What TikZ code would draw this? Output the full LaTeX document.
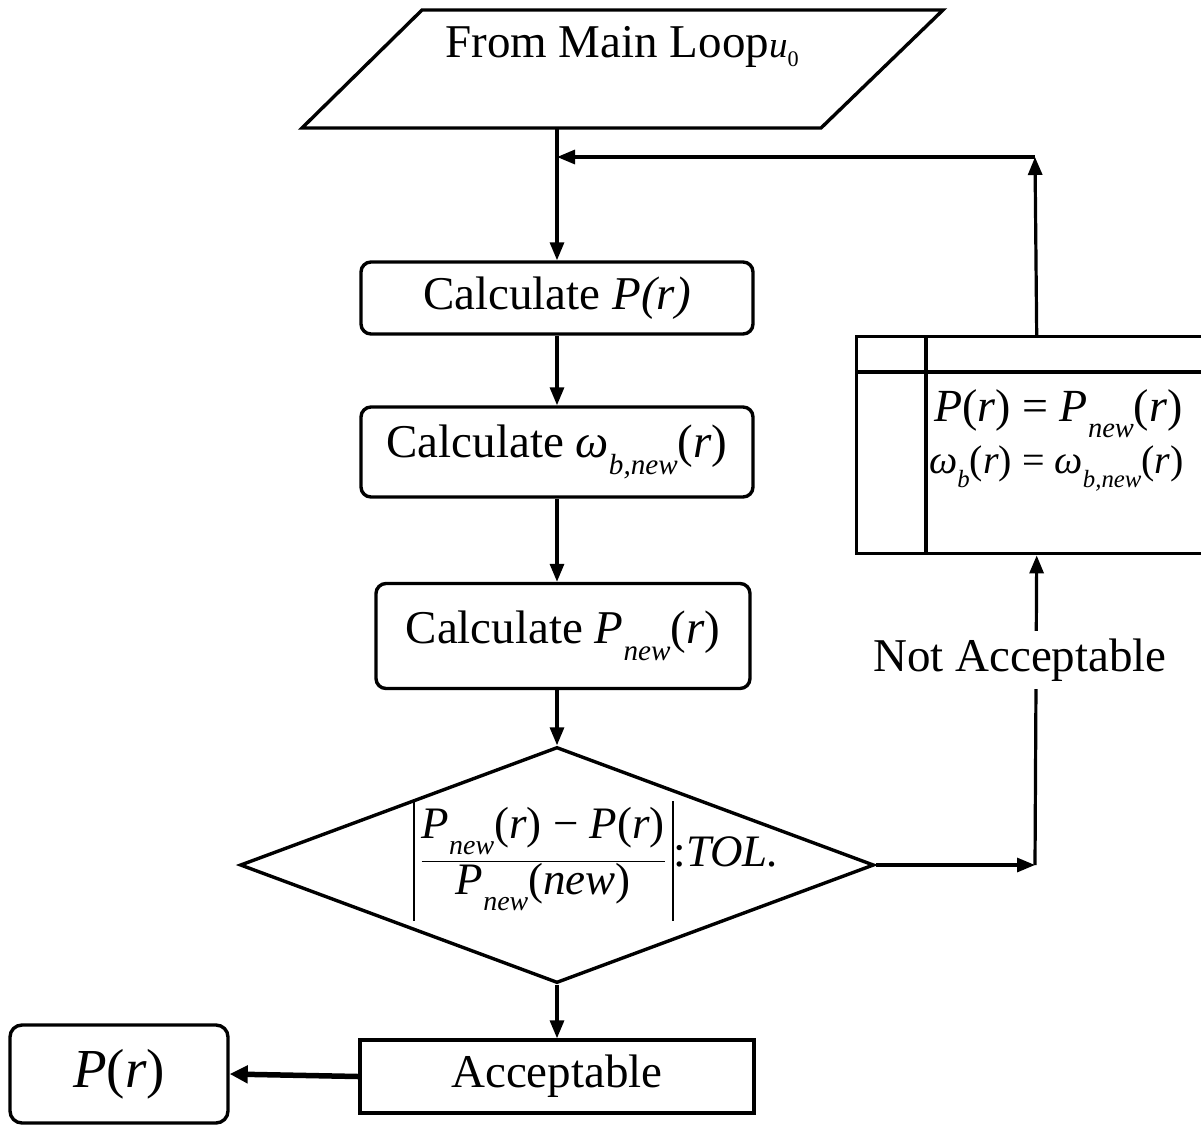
\documentclass[tikz,border=0pt]{standalone}
\usepackage{fontspec}
\setmainfont{Liberation Serif}
\usepackage{graphicx}
\usetikzlibrary{arrows.meta,shapes.geometric}
\newcommand\sbx[1]{\raisebox{-0.36em}{\scalebox{0.62}{\itshape #1}}}
\newcommand\absbar{\vcenter{\hbox{\rule{2.2pt}{120pt}}}}
\begin{document}
\begin{tikzpicture}[x=1pt,y=-1pt,
  shp/.style={draw,line width=3.4pt},
  proc/.style={shp,rounded corners=10pt,inner sep=0pt,font=\fontsize{47}{54}\selectfont},
  plain/.style={shp,inner sep=0pt,font=\fontsize{47}{54}\selectfont},
  flow/.style={line width=3.2pt,-{Triangle[length=18pt,width=14pt]}},
  bigflow/.style={line width=5.5pt,-{Triangle[length=18pt,width=17pt]}},
  txt/.style={inner sep=0pt,font=\fontsize{47}{54}\selectfont}]
\useasboundingbox (0,0) rectangle (1201,1127);
\clip (0,0) rectangle (1201,1127);
% input parallelogram
\draw[shp,line join=miter] (422,10) -- (943,10) -- (821,128) -- (302,128) -- cycle;
\node[txt,anchor=base] (srct) at (622,57) {From Main Loop{\fontsize{37}{40}\selectfont\textit{u}\raisebox{-0.25em}{\scalebox{0.6}{0}}}};
\coordinate (src) at (557,128);
% process boxes
\node[proc,minimum width=392pt,minimum height=72pt] (b1) at (557,298) {Calculate \textit{P(r)}};
\node[proc,minimum width=392pt,minimum height=90pt] (b2) at (557,452) {Calculate \textit{ω}\sbx{b,new}(\textit{r})};
\node[proc,minimum width=374pt,minimum height=105pt] (b3) at (563,636) {Calculate \textit{P}\sbx{new}(\textit{r})};
% decision
\node[shp,diamond,line join=miter,minimum width=634pt,minimum height=236pt,inner sep=0pt] (dec) at (557,865) {};
\node[txt,font=\fontsize{45}{50}\selectfont] (dect) at (596,859)
  {$\absbar\mkern4mu\displaystyle\frac{\rule[-21pt]{0pt}{62pt}\hbox{\textit{P}\sbx{new}(\textit{r}) − \textit{P}(\textit{r})}}{\rule[-18pt]{0pt}{50pt}\hbox{\textit{P}\sbx{new}(\textit{new})}}\mkern4mu\absbar$:\textit{TOL.}};
% bottom boxes
\node[plain,minimum width=394pt,minimum height=73pt] (acc) at (557,1076.5) {Acceptable};
\node[proc,rounded corners=12pt,minimum width=218pt,minimum height=98pt,font=\fontsize{55}{60}\selectfont] (pr) at (119,1074) {\textit{P}(\textit{r})};
% update box
\node[shp,inner sep=0pt,minimum width=360pt,minimum height=217pt,anchor=north west] (rb) at (855,335) {};
\draw[line width=3.4pt] (926,335) -- (926,552);
\draw[line width=3.4pt] (855,372) -- (1215,372);
\node[txt,anchor=base west,font=\fontsize{46}{50}\selectfont] (rbt1) at (934,421) {\textit{P}(\textit{r}) = \textit{P}\sbx{new}(\textit{r})};
\node[txt,anchor=base west,font=\fontsize{40}{44}\selectfont] (rbt2) at (929,473) {\textit{ω}\sbx{b}(\textit{r}) = \textit{ω}\sbx{b,new}(\textit{r})};
% connectors
\coordinate (lc) at (1035,157);
\coordinate (lm) at (557,157);
\coordinate (na) at (1035,865);
\draw[flow] (src) -- (b1.north);
\draw[flow] (b1.south) -- (b2.north);
\draw[flow] (b2.south) -- (b2.south |- b3.north);
\draw[flow] (b2.south |- b3.south) -- (dec.north);
\draw[flow] (dec.south) -- (acc.north);
\draw[bigflow] (acc.west) -- (pr.east);
\draw[flow] (dec.east) -- (na);
\draw[flow] (na) -- (rb.south);
\node[txt,fill=white,inner sep=8pt] (nal) at (1020,660) {Not Acceptable};
\draw[flow] (rb.north) -- (lc);
\draw[flow] (lc) -- (lm);
\end{tikzpicture}
\end{document}
